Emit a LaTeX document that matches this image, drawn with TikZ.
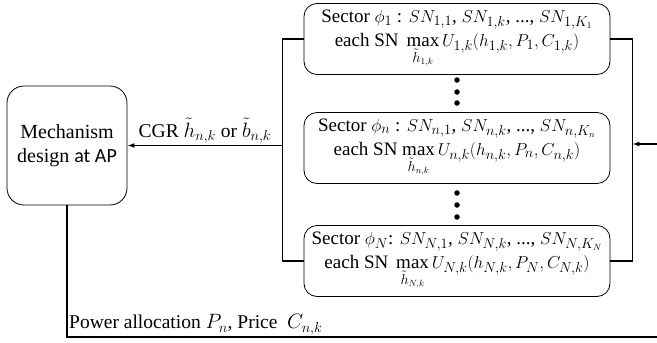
\documentclass[tikz,border=0pt]{standalone}
\usepackage{amsmath}
\usepackage{fontspec}
\setmainfont{Liberation Serif}
\newfontfamily\apfont{Carlito}
\usetikzlibrary{positioning,arrows.meta}
\tikzset{
  secbox/.style={draw, line width=0.8pt, rounded corners=13pt, minimum width=306pt,
    minimum height=71pt, align=center, inner sep=0pt,
    font=\fontsize{19}{24}\selectfont},
  mechbox/.style={draw, line width=0.8pt, rounded corners=17pt, minimum width=120pt,
    minimum height=119pt, align=center, inner sep=0pt,
    font=\fontsize{20}{24}\selectfont},
  link/.style={line width=1.3pt},
  dot/.style={circle, fill, inner sep=0pt, minimum size=5.5pt},
  lbl/.style={font=\fontsize{19.5}{23}\selectfont},
}

\begin{document}
\begin{tikzpicture}[x=1pt, y=-1pt, >={Latex[length=7pt,width=5pt]}]
    \useasboundingbox (0,0) rectangle (657,343);
    % define nodes
    % access point
    \node[mechbox] (ap) at (67,145.5) {Mechanism\\design {\apfont at AP}};
    % sectors
    \node[secbox] (sec_1) at (457,39)
        {Sector $\phi_1$ : $SN_{1,1}$, $SN_{1,k}$, ..., $SN_{1,K_1}$\\
         each SN\, $\max\limits_{\tilde{h}_{1,k}} U_{1,k}(h_{1,k}, P_1, C_{1,k})$};
    \node[secbox] (sec_n) at (457,148)
        {Sector $\phi_n$ : $SN_{n,1}$, $SN_{n,k}$, ..., $SN_{n,K_n}$\\
         each SN $\max\limits_{\tilde{h}_{n,k}} U_{n,k}(h_{n,k}, P_n, C_{n,k})$};
    \node[secbox] (sec_N) at (457,261)
        {Sector $\phi_N$: $SN_{N,1}$, $SN_{N,k}$, ..., $SN_{N,K_N}$\\
         each SN\, $\max\limits_{\tilde{h}_{N,k}} U_{N,k}(h_{N,k}, P_N, C_{N,k})$};
    % dots between sectors
    \foreach \y in {80,92,103,193,205,217}
        \node[dot] (dot_\y) at (457,\y) {};
    % bracket corners
    \coordinate[left=21pt of sec_1.west] (brl_top);
    \coordinate[left=21pt of sec_N.west] (brl_bot);
    \coordinate[right=22pt of sec_1.east] (brr_top);
    \coordinate[right=22pt of sec_N.east] (brr_bot);
    % free ends
    \coordinate (fb_in) at (657,144);
    \coordinate (fb_out) at (657,337);
    % draw connectors
    \draw[link] (sec_1.west) -- (brl_top) -- (brl_bot) -- (sec_N.west);
    \draw[link] (sec_1.east) -- (brr_top) -- (brr_bot) -- (sec_N.east);
    \draw[link, ->] (brl_top |- ap.east) --
        node[lbl, above, inner sep=1.5pt] {CGR $\tilde{h}_{n,k}$ or $\tilde{b}_{n,k}$} (ap.east);
    \draw[link, ->] (fb_in) -- (fb_in -| brr_top);
    \draw[link] (ap.south) |- (fb_out);
    % add labels
    \node[lbl, anchor=south west, inner sep=2pt] (power) at (ap.south |- fb_out)
        {Power allocation $P_n$, Price~ $C_{n,k}$};
\end{tikzpicture}
\end{document}
